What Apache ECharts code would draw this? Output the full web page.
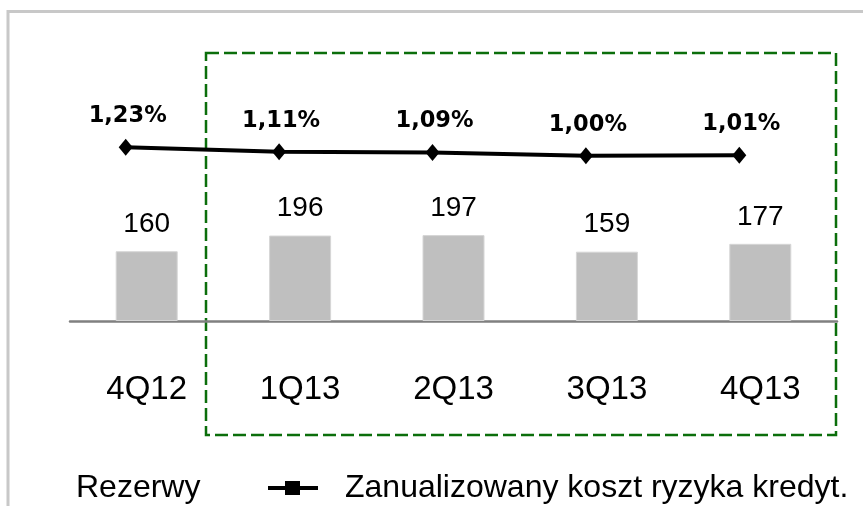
<!DOCTYPE html>
<html><head><meta charset="utf-8">
<script src="https://cdn.jsdelivr.net/npm/echarts@6/dist/echarts.min.js"></script>
<style>html,body{margin:0;padding:0;background:#fff}#c{width:863px;height:506px}</style>
</head><body><div id="c"></div>
<script>
const categories = ['4Q12', '1Q13', '2Q13', '3Q13', '4Q13'];
const rezerwy = [160, 196, 197, 159, 177];
const kosztRyzyka = [1.23, 1.11, 1.09, 1.00, 1.01];
const seriesNames = ['Rezerwy', 'Zanualizowany koszt ryzyka kredyt.'];

const narrow = '"Liberation Sans Narrow", "Arial Narrow", "Liberation Sans", Arial, sans-serif';
const regular = '"Liberation Sans", Arial, sans-serif';
const wideBold = '"DejaVu Sans", Verdana, sans-serif';

const chart = echarts.init(document.getElementById('c'), null, {renderer: 'canvas'});
const option = {
  animation: false,
  backgroundColor: '#ffffff',
  graphic: [
    {type: 'rect', z: -10, shape: {x: 8, y: 11.5, width: 1200, height: 1200},
     style: {fill: 'none', stroke: '#c8c8c8', lineWidth: 3}},
    {type: 'rect', z: -5, shape: {x: 206, y: 53, width: 630, height: 382},
     style: {fill: 'none', stroke: '#0b6e0b', lineWidth: 2.5, lineDash: [13, 5]}}
  ],
  grid: [
    {left: 70, right: 26, top: 103, bottom: 185},
    {left: 49, right: 47, top: 103, bottom: 185}
  ],
  xAxis: [
    {type: 'category', gridIndex: 0, data: categories,
     axisLine: {lineStyle: {color: '#808080', width: 2.5}},
     axisTick: {show: false},
     axisLabel: {fontFamily: narrow, fontSize: 33, color: '#000', margin: 52}},
    {type: 'category', gridIndex: 1, data: categories, show: false}
  ],
  yAxis: [
    {type: 'value', gridIndex: 0, min: 0, max: 500, show: false},
    {type: 'value', gridIndex: 1, min: -3.55, max: 2.45, show: false}
  ],
  legend: [
    {data: [{name: seriesNames[0], icon: 'rect', itemStyle: {color: 'rgba(0,0,0,0)', borderWidth: 0}}],
     left: 56, top: 467, itemWidth: 10, itemHeight: 14,
     textStyle: {fontFamily: regular, fontSize: 32, color: '#000'}},
    {data: [{name: seriesNames[1], icon: 'path://M0,5H17V0H32V5H50V9H32V14H17V9H0Z'}],
     left: 263, top: 467, itemWidth: 50, itemHeight: 14,
     itemStyle: {color: '#000'},
     textStyle: {fontFamily: regular, fontSize: 32, color: '#000', padding: [0, 0, 0, 22]}}
  ],
  series: [
    {name: seriesNames[0], type: 'bar', xAxisIndex: 0, yAxisIndex: 0, data: rezerwy,
     barWidth: 62,
     itemStyle: {color: '#bfbfbf', borderColor: '#d6d6d6', borderWidth: 1},
     label: {show: true, position: 'top', distance: 13, fontFamily: narrow, fontSize: 28, color: '#000'}},
    {name: seriesNames[1], type: 'line', xAxisIndex: 1, yAxisIndex: 1, data: kosztRyzyka,
     symbol: 'diamond', symbolSize: [14, 17],
     lineStyle: {color: '#000', width: 4},
     itemStyle: {color: '#000'},
     label: {show: true, position: 'top', distance: 11, offset: [2, 0],
       fontFamily: wideBold, fontWeight: 'bold', fontSize: 22.5, color: '#000',
       formatter: p => p.value.toFixed(2).replace('.', ',') + '%'}}
  ]
};
chart.setOption(option);
</script></body></html>
